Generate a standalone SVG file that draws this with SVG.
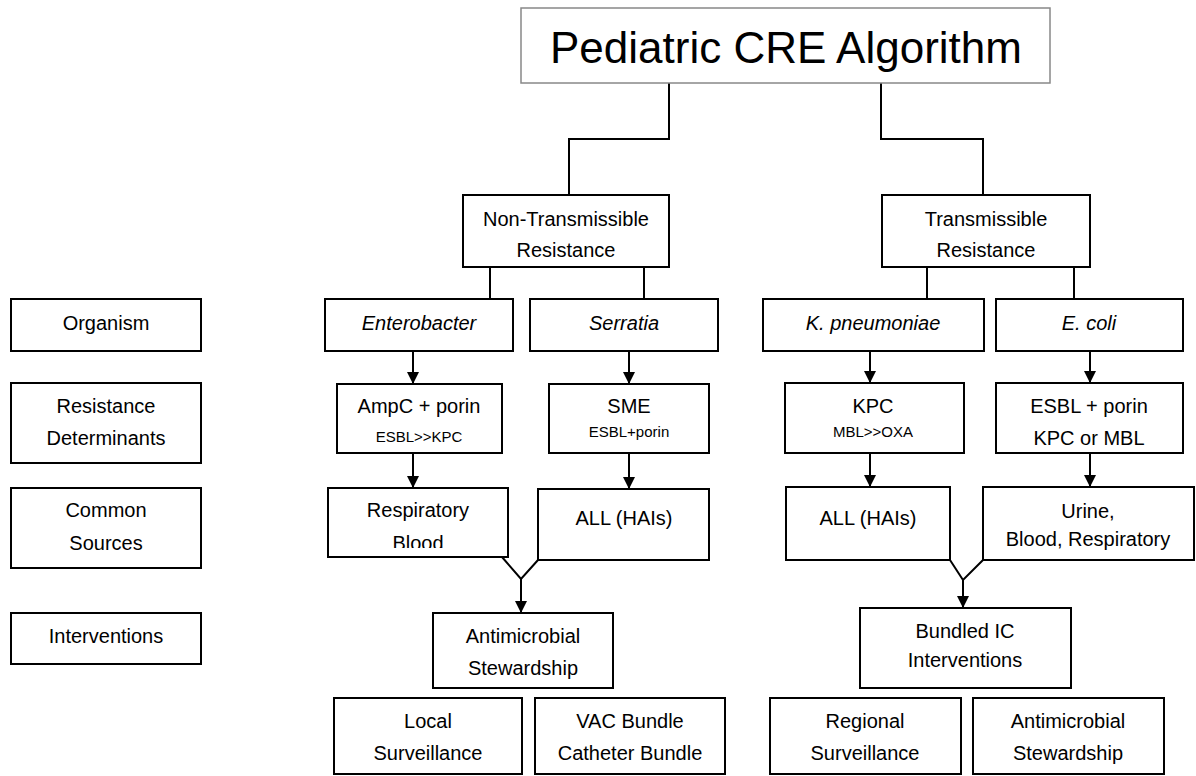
<svg xmlns="http://www.w3.org/2000/svg" width="1196" height="776" viewBox="0 0 1196 776">
<defs>
<style>
.b{fill:#fff;stroke:#000;stroke-width:2}
.t{font-family:"Liberation Sans",Arial,sans-serif;font-size:20px;fill:#000;text-anchor:middle}
.s{font-size:15px}
.i{font-style:italic}
.c{fill:none;stroke:#000;stroke-width:2}
</style>
<marker id="ah" viewBox="0 0 10 10" refX="10" refY="5" markerWidth="6" markerHeight="6" markerUnits="strokeWidth" orient="auto">
<path d="M0,0 L10,5 L0,10 Z" fill="#000"/>
</marker>
<clipPath id="respClip"><rect x="328" y="488" width="180" height="60"/></clipPath>
</defs>
<rect width="1196" height="776" fill="#fff"/>

<g id="connectors">
<path class="c" d="M669,83 V139 H569 V195"/>
<path class="c" d="M881,83 V139 H983 V195"/>
<path class="c" d="M490,267 V299 M644,267 V299"/>
<path class="c" d="M927,267 V299 M1074,267 V299"/>
<path class="c" d="M413,351 V384" marker-end="url(#ah)"/>
<path class="c" d="M629,351 V384" marker-end="url(#ah)"/>
<path class="c" d="M870,351 V383" marker-end="url(#ah)"/>
<path class="c" d="M1090,351 V383" marker-end="url(#ah)"/>
<path class="c" d="M413,453 V488" marker-end="url(#ah)"/>
<path class="c" d="M629,453 V489" marker-end="url(#ah)"/>
<path class="c" d="M870,453 V487" marker-end="url(#ah)"/>
<path class="c" d="M1090,453 V487" marker-end="url(#ah)"/>
<path class="c" d="M502,557 L521,579 L538,560"/>
<path class="c" d="M521,579 V613" marker-end="url(#ah)"/>
<path class="c" d="M950,560 L963,580 L983,560"/>
<path class="c" d="M963,580 V608" marker-end="url(#ah)"/>
</g>

<g id="title">
<rect x="521" y="8" width="529" height="75" fill="#fff" stroke="#888" stroke-width="1.5"/>
<text class="t" x="786" y="63" style="font-size:44px">Pediatric CRE Algorithm</text>
</g>

<g id="non-transmissible">
<rect class="b" x="463" y="195" width="206" height="72"/>
<text class="t" x="566" y="226">Non-Transmissible</text>
<text class="t" x="566" y="257">Resistance</text>
</g>
<g id="transmissible">
<rect class="b" x="882" y="195" width="208" height="72"/>
<text class="t" x="986" y="226">Transmissible</text>
<text class="t" x="986" y="257">Resistance</text>
</g>

<g id="label-organism">
<rect class="b" x="11" y="299" width="190" height="52"/>
<text class="t" x="106" y="330">Organism</text>
</g>
<g id="label-resistance">
<rect class="b" x="11" y="383" width="190" height="80"/>
<text class="t" x="106" y="413">Resistance</text>
<text class="t" x="106" y="445">Determinants</text>
</g>
<g id="label-sources">
<rect class="b" x="11" y="488" width="190" height="80"/>
<text class="t" x="106" y="517">Common</text>
<text class="t" x="106" y="550">Sources</text>
</g>
<g id="label-interventions">
<rect class="b" x="11" y="613" width="190" height="51"/>
<text class="t" x="106" y="643">Interventions</text>
</g>

<g id="enterobacter">
<rect class="b" x="325" y="299" width="188" height="52"/>
<text class="t i" x="419" y="330">Enterobacter</text>
</g>
<g id="serratia">
<rect class="b" x="530" y="299" width="188" height="52"/>
<text class="t i" x="624" y="330">Serratia</text>
</g>
<g id="kpneumoniae">
<rect class="b" x="763" y="299" width="221" height="52"/>
<text class="t i" x="873" y="330">K. pneumoniae</text>
</g>
<g id="ecoli">
<rect class="b" x="996" y="299" width="187" height="52"/>
<text class="t i" x="1089" y="330">E. coli</text>
</g>

<g id="ampc">
<rect class="b" x="337" y="384" width="165" height="69"/>
<text class="t" x="419" y="413">AmpC + porin</text>
<text class="t s" x="419" y="442">ESBL&gt;&gt;KPC</text>
</g>
<g id="sme">
<rect class="b" x="549" y="384" width="160" height="69"/>
<text class="t" x="629" y="413">SME</text>
<text class="t s" x="629" y="437">ESBL+porin</text>
</g>
<g id="kpc">
<rect class="b" x="785" y="383" width="179" height="70"/>
<text class="t" x="873" y="413">KPC</text>
<text class="t s" x="873" y="437">MBL&gt;&gt;OXA</text>
</g>
<g id="esbl">
<rect class="b" x="996" y="383" width="187" height="70"/>
<text class="t" x="1089" y="413">ESBL + porin</text>
<text class="t" x="1089" y="445">KPC or MBL</text>
</g>

<g id="respiratory">
<rect class="b" x="328" y="488" width="180" height="69"/>
<text class="t" x="418" y="517">Respiratory</text>
<text class="t" x="418" y="550" clip-path="url(#respClip)">Blood</text>
</g>
<g id="all-left">
<rect class="b" x="538" y="489" width="171" height="71"/>
<text class="t" x="624" y="525">ALL (HAIs)</text>
</g>
<g id="all-right">
<rect class="b" x="786" y="487" width="164" height="73"/>
<text class="t" x="868" y="525">ALL (HAIs)</text>
</g>
<g id="urine">
<rect class="b" x="983" y="487" width="211" height="73"/>
<text class="t" x="1088" y="518">Urine,</text>
<text class="t" x="1088" y="546">Blood, Respiratory</text>
</g>

<g id="stewardship-left">
<rect class="b" x="433" y="613" width="180" height="75"/>
<text class="t" x="523" y="643">Antimicrobial</text>
<text class="t" x="523" y="675">Stewardship</text>
</g>
<g id="bundled">
<rect class="b" x="860" y="608" width="211" height="80"/>
<text class="t" x="965" y="638">Bundled IC</text>
<text class="t" x="965" y="667">Interventions</text>
</g>

<g id="local">
<rect class="b" x="334" y="698" width="188" height="76"/>
<text class="t" x="428" y="728">Local</text>
<text class="t" x="428" y="760">Surveillance</text>
</g>
<g id="vac">
<rect class="b" x="535" y="698" width="190" height="76"/>
<text class="t" x="630" y="728">VAC Bundle</text>
<text class="t" x="630" y="760">Catheter Bundle</text>
</g>
<g id="regional">
<rect class="b" x="770" y="698" width="191" height="76"/>
<text class="t" x="865" y="728">Regional</text>
<text class="t" x="865" y="760">Surveillance</text>
</g>
<g id="stewardship-right">
<rect class="b" x="973" y="698" width="191" height="76"/>
<text class="t" x="1068" y="728">Antimicrobial</text>
<text class="t" x="1068" y="760">Stewardship</text>
</g>
</svg>
